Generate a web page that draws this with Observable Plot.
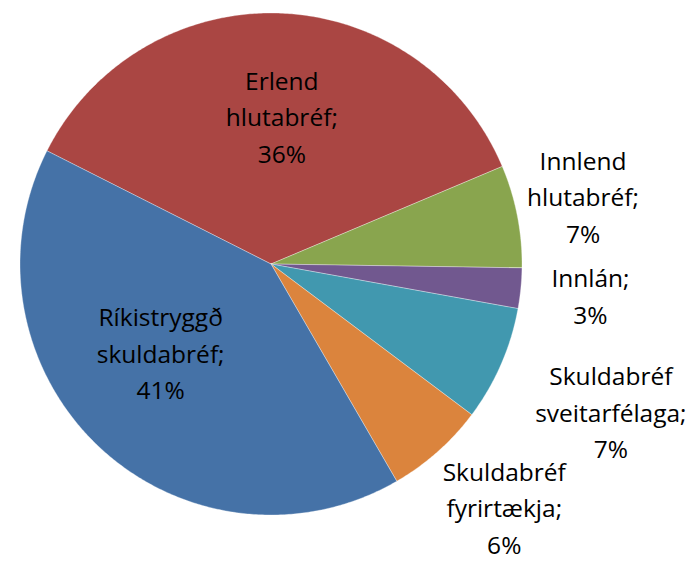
<!DOCTYPE html>
<html>
<head>
<meta charset="utf-8">
<script src="https://cdn.jsdelivr.net/npm/d3@7"></script>
<script src="https://cdn.jsdelivr.net/npm/@observablehq/plot@0.6"></script>
<style>
  html, body { margin: 0; padding: 0; background: #fff; }
  #chart svg { display: block; }
</style>
</head>
<body>
<div id="chart"></div>
<script>
// ---- data ----
const categories = ["Erlend hlutabréf", "Innlend hlutabréf", "Innlán", "Skuldabréf sveitarfélaga", "Skuldabréf fyrirtækja", "Ríkistryggð skuldabréf"];
const shares = [36.2, 6.6, 2.6, 7.4, 6.4, 40.8];
const labelText = ["Erlend\nhlutabréf;", "Innlend\nhlutabréf;", "Innlán;", "Skuldabréf\nsveitarfélaga;", "Skuldabréf\nfyrirtækja;", "Ríkistryggð\nskuldabréf;"];
const colors = ["#AA4643", "#89A54E", "#71588F", "#4198AF", "#DB843D", "#4572A7"];

// ---- layout constants ----
const startAngleDeg = -63.2;               // rotation of first slice (clockwise from 12 o'clock)
const labelRadius = [0.58, 1.27, 1.28, 1.48, 1.35, 0.57];   // in pie radii
const labelShiftDeg = [2.3, -0.8, 0.5, 0.25, -1.9, 7.1];     // nudge from mid-angle

const total = d3.sum(shares);
const rad = Math.PI / 180;
let acc = startAngleDeg;
const slices = shares.map((v, i) => {
  const a0 = acc, a1 = acc + v / total * 360;
  acc = a1;
  return {name: categories[i], value: v, a0, a1, mid: (a0 + a1) / 2, i};
});

// outline points of each slice (center -> arc -> center), in unit coordinates
const outline = [];
for (const s of slices) {
  outline.push({name: s.name, x: 0, y: 0});
  const n = Math.max(2, Math.ceil((s.a1 - s.a0) / 0.5));
  for (let k = 0; k <= n; ++k) {
    const a = (s.a0 + (s.a1 - s.a0) * k / n) * rad;
    outline.push({name: s.name, x: Math.sin(a), y: Math.cos(a)});
  }
  outline.push({name: s.name, x: 0, y: 0});
}

const labels = slices.map(s => {
  const a = (s.mid + labelShiftDeg[s.i]) * rad;
  const r = labelRadius[s.i];
  return {
    x: r * Math.sin(a),
    y: r * Math.cos(a),
    text: labelText[s.i] + "\n" + Math.round(s.value / total * 100) + "%"
  };
});

const cx = 270.5, cy = 263.5, R = 251;
const chart = Plot.plot({
  width: 696,
  height: 561,
  margin: 0,
  style: {background: "#fff", fontFamily: "'Open Sans', sans-serif"},
  x: {domain: [-1, 1], range: [cx - R, cx + R], axis: null},
  y: {domain: [-1, 1], range: [cy + R, cy - R], axis: null},
  color: {domain: categories, range: colors},
  marks: [
    Plot.line(outline, {
      x: "x", y: "y", z: "name",
      fill: "name",
      stroke: "#ffffff", strokeWidth: 0.6, strokeOpacity: 0.55,
      curve: "linear"
    }),
    Plot.text(labels, {
      x: "x", y: "y", text: "text",
      fontSize: 24.5, lineHeight: 1.48, dy: -4,
      fill: "#000", textAnchor: "middle"
    })
  ]
});
document.getElementById("chart").append(chart);
</script>
</body>
</html>
